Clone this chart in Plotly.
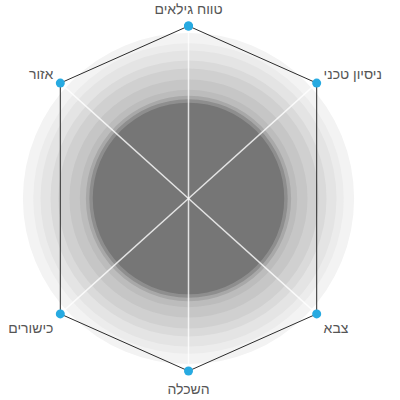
import plotly.graph_objects as go

# Categories (clockwise from top) and their angular positions (degrees)
categories = ["טווח גילאים", "ניסיון טכני", "צבא", "השכלה", "כישורים", "אזור"]
angles = [90, 42, 318, 270, 222, 138]
values = [1, 1, 1, 1, 1, 1]

# Background concentric bands (radius as fraction of max, colour)
ring_radii = [0.96, 0.90, 0.858, 0.80, 0.754, 0.69, 0.63, 0.595, 0.575, 0.555]
ring_colors = ["#f3f3f3", "#ececec", "#e4e4e4", "#dadada", "#d0d0d0",
               "#c6c6c6", "#bcbcbc", "#a8a8a8", "#8e8e8e", "#767676"]

fig = go.Figure()

fig.add_trace(go.Barpolar(
    r=ring_radii,
    theta=[0] * len(ring_radii),
    width=[360] * len(ring_radii),
    marker=dict(color=ring_colors, line=dict(width=0)),
    hoverinfo="skip",
    showlegend=False,
))

# spokes from centre to each category
spoke_r, spoke_t = [], []
for a in angles:
    spoke_r += [0, 1, None]
    spoke_t += [a, a, None]
fig.add_trace(go.Scatterpolar(
    r=spoke_r, theta=spoke_t, mode="lines",
    line=dict(color="rgba(255,255,255,0.8)", width=1.5),
    hoverinfo="skip", showlegend=False, connectgaps=False,
))

fig.add_trace(go.Scatterpolar(
    r=values + values[:1],
    theta=angles + angles[:1],
    mode="lines+markers",
    line=dict(color="#2b2b2b", width=1),
    marker=dict(color="#27aae1", size=9),
    hoverinfo="skip",
    showlegend=False,
))

fig.update_layout(
    width=400, height=400,
    margin=dict(l=16, r=39, t=26, b=29),
    paper_bgcolor="white",
    polar=dict(
        bgcolor="rgba(0,0,0,0)",
        barmode="overlay",
        radialaxis=dict(range=[0, 1], visible=False, showgrid=False),
        angularaxis=dict(
            tickmode="array",
            tickvals=angles,
            ticktext=categories,
            direction="counterclockwise",
            rotation=0,
            showline=False,
            ticks="outside",
            ticklen=6,
            tickcolor="rgba(0,0,0,0)",
            showgrid=False,
            tickfont=dict(family="Liberation Sans, Arial, sans-serif", size=14, color="#555555"),
        ),
    ),
)

fig.write_html("out.html")
